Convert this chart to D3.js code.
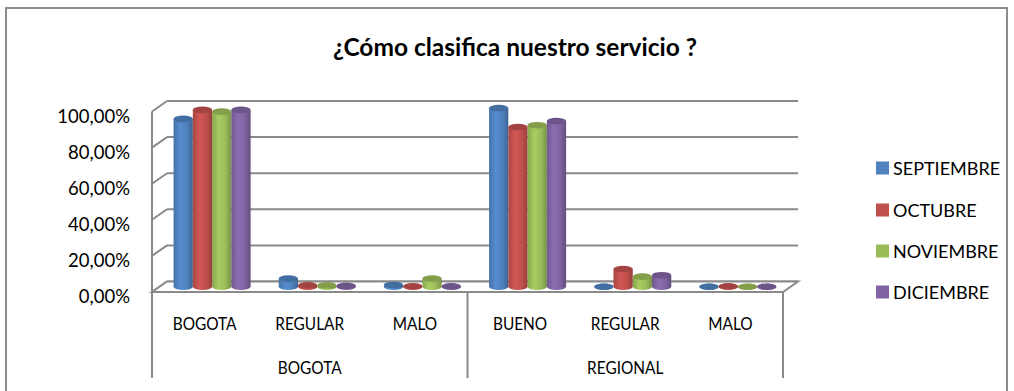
<!DOCTYPE html>
<html>
<head>
<meta charset="utf-8">
<script src="https://cdn.jsdelivr.net/npm/d3@7"></script>
<style>
  html, body { margin: 0; padding: 0; background: #fff; }
  svg { display: block; font-family: Lato, "Open Sans", sans-serif; }
</style>
</head>
<body>
<svg id="chart" width="1014" height="391"></svg>
<script>
// Survey results: how customers rate the service, by month
const categories = ["BOGOTA", "REGULAR", "MALO", "BUENO", "REGULAR", "MALO"];
const groups = [
  { name: "BOGOTA", span: 3 },
  { name: "REGIONAL", span: 3 }
];
const seriesNames = ["SEPTIEMBRE", "OCTUBRE", "NOVIEMBRE", "DICIEMBRE"];
const septiembre = [0.93, 0.045, 0.010, 0.990, 0.000, 0.000];
const octubre    = [0.98, 0.008, 0.003, 0.885, 0.098, 0.003];
const noviembre  = [0.97, 0.008, 0.045, 0.895, 0.056, 0.000];
const diciembre  = [0.98, 0.005, 0.002, 0.918, 0.064, 0.000];
const seriesValues = [septiembre, octubre, noviembre, diciembre];
const seriesColors = ["#4F81BD", "#C0504D", "#9BBB59", "#8064A2"];
const yTicks = [0, 0.2, 0.4, 0.6, 0.8, 1.0];
const title = "¿Cómo clasifica nuestro servicio ?";

const svg = d3.select("#chart");
const defs = svg.append("defs");

// 3D depth offset of the plot box (back wall relative to front plane)
const DX = 15, DY = -10.5;

const x = d3.scaleBand().domain(d3.range(categories.length)).range([152, 783]);
const y = d3.scaleLinear().domain([0, 1]).range([292, 111.5]);
const inner = d3.scaleBand().domain(d3.range(seriesNames.length))
  .range([0, x.bandwidth()]).paddingInner(0).paddingOuter(0.73);

const fmt = v => d3.format(".2f")(v * 100).replace(".", ",") + "%";
const gridColor = "#8a8a8a";

// narrow a text element horizontally, keeping its height
function condense(sel, k) {
  sel.each(function () {
    const len = this.getComputedTextLength();
    d3.select(this).attr("textLength", len * k).attr("lengthAdjust", "spacingAndGlyphs");
  });
}

// chart frame
svg.append("rect")
  .attr("x", 6).attr("y", 8).attr("width", 1001).attr("height", 400)
  .attr("fill", "#fff").attr("stroke", "#8c8c8c").attr("stroke-width", 2);

// title
svg.append("text")
  .attr("x", 515).attr("y", 56)
  .attr("text-anchor", "middle")
  .attr("font-weight", "bold").attr("font-size", 24.5)
  .attr("fill", "#000")
  .text(title);

const plot = svg.append("g");
const x0 = x.range()[0], x1 = x.range()[1];

// back wall gridlines
plot.selectAll("line.grid").data(yTicks).join("line")
  .attr("class", "grid")
  .attr("x1", x0 + DX).attr("x2", x1 + DX)
  .attr("y1", d => y(d) + DY).attr("y2", d => y(d) + DY)
  .attr("stroke", gridColor).attr("stroke-width", 2);

// side wall: diagonal ticks and front edge
plot.selectAll("line.side").data(yTicks).join("line")
  .attr("class", "side")
  .attr("x1", x0).attr("x2", x0 + DX)
  .attr("y1", d => y(d)).attr("y2", d => y(d) + DY)
  .attr("stroke", gridColor).attr("stroke-width", 2);
plot.append("line")
  .attr("x1", x0).attr("x2", x0)
  .attr("y1", y(1)).attr("y2", 378)
  .attr("stroke", gridColor).attr("stroke-width", 2);

// floor
plot.append("path")
  .attr("d", `M${x0},${y(0)} L${x0 + DX},${y(0) + DY} L${x1 + DX},${y(0) + DY} L${x1},${y(0)} Z`)
  .attr("fill", "#fff").attr("stroke", gridColor).attr("stroke-width", 2)
  .attr("stroke-linejoin", "miter");

// y-axis labels
svg.append("g").selectAll("text").data(yTicks).join("text")
  .attr("x", 130).attr("y", d => y(d) + 4)
  .attr("text-anchor", "end").attr("dominant-baseline", "central")
  .attr("font-size", 18.5).attr("fill", "#000")
  .text(fmt);

// cylinder gradients
seriesColors.forEach((c, i) => {
  const base = d3.color(c);
  const g = defs.append("linearGradient").attr("id", "cyl" + i)
    .attr("x1", 0).attr("x2", 1).attr("y1", 0).attr("y2", 0);
  g.append("stop").attr("offset", "0%").attr("stop-color", base.darker(0.35));
  g.append("stop").attr("offset", "35%").attr("stop-color", base.brighter(0.25));
  g.append("stop").attr("offset", "70%").attr("stop-color", base);
  g.append("stop").attr("offset", "100%").attr("stop-color", base.darker(0.7));
});

// cylinders, drawn at mid-depth of the box
const MX = DX / 2, MY = DY / 2;
const w = inner.bandwidth();
const ry = 3.3;
const bars = [];
categories.forEach((cat, ci) => {
  seriesValues.forEach((vals, si) => {
    bars.push({ ci, si, v: vals[ci] });
  });
});

const cyl = plot.append("g").selectAll("g").data(bars).join("g")
  .attr("transform", d => `translate(${x(d.ci) + inner(d.si) + MX},0)`);

cyl.append("ellipse")
  .attr("cx", w / 2).attr("cy", y(0) + MY)
  .attr("rx", w / 2).attr("ry", ry)
  .attr("fill", d => `url(#cyl${d.si})`);
cyl.append("rect")
  .attr("x", 0).attr("width", w)
  .attr("y", d => y(d.v) + MY)
  .attr("height", d => y(0) - y(d.v))
  .attr("fill", d => `url(#cyl${d.si})`);
cyl.append("ellipse")
  .attr("cx", w / 2).attr("cy", d => y(d.v) + MY)
  .attr("rx", w / 2).attr("ry", ry)
  .attr("fill", d => d3.color(seriesColors[d.si]).darker(0.45));

// category axis: separators and labels
const sepIdx = [0, 3, 6];
svg.append("g").selectAll("line").data(sepIdx).join("line")
  .attr("x1", d => d < categories.length ? x(d) : x1)
  .attr("x2", d => d < categories.length ? x(d) : x1)
  .attr("y1", y(0)).attr("y2", 378)
  .attr("stroke", gridColor).attr("stroke-width", 2);

svg.append("g").selectAll("text").data(categories).join("text")
  .attr("x", (d, i) => x(i) + x.bandwidth() / 2)
  .attr("y", 323).attr("dominant-baseline", "central")
  .attr("text-anchor", "middle").attr("font-size", 17.5).attr("fill", "#000")
  .text(d => d)
  .call(condense, 0.88);

let start = 0;
const groupPos = groups.map(g => {
  const p = { name: g.name, cx: (x(start) + x(start + g.span - 1) + x.bandwidth()) / 2 };
  start += g.span;
  return p;
});
svg.append("g").selectAll("text").data(groupPos).join("text")
  .attr("x", d => d.cx).attr("y", 367).attr("dominant-baseline", "central")
  .attr("text-anchor", "middle").attr("font-size", 17.5).attr("fill", "#000")
  .text(d => d.name)
  .call(condense, 0.88);

// legend
const legendY = [168, 210, 251, 292];
const lg = svg.append("g").selectAll("g").data(seriesNames).join("g")
  .attr("transform", (d, i) => `translate(876,${legendY[i]})`);
lg.append("rect").attr("x", 0).attr("y", -6.5).attr("width", 13).attr("height", 13)
  .attr("fill", (d, i) => seriesColors[i]);
lg.append("text").attr("x", 17).attr("y", 0).attr("dominant-baseline", "central")
  .attr("font-size", 18).attr("fill", "#000").text(d => d);
</script>
</body>
</html>
